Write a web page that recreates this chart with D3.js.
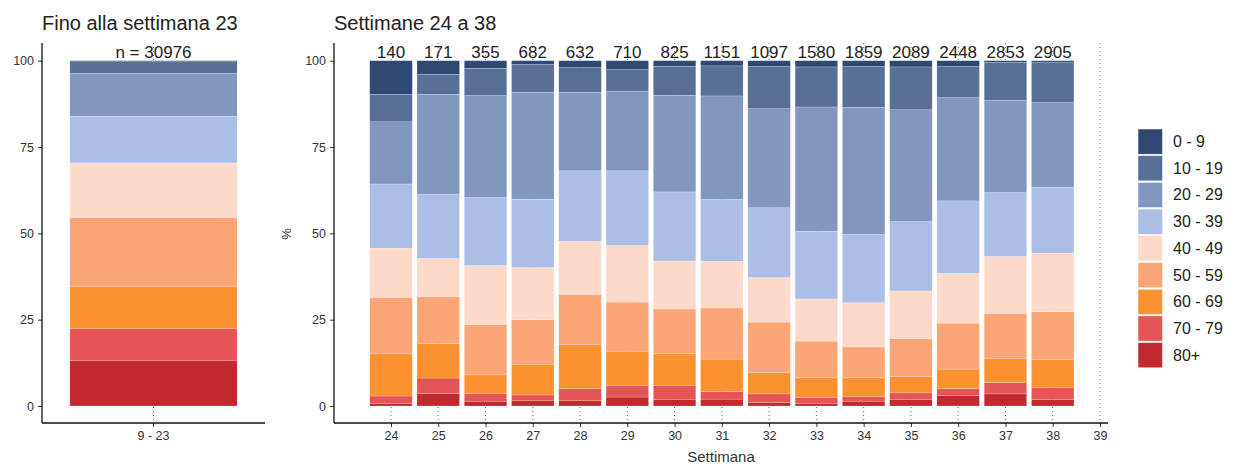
<!DOCTYPE html>
<html>
<head>
<meta charset="utf-8">
<script src="https://cdn.jsdelivr.net/npm/d3@7"></script>
<style>
  html, body { margin: 0; padding: 0; background: #fff; }
  svg { display: block; font-family: "Liberation Sans", Arial, sans-serif; }
</style>
</head>
<body>
<svg id="chart" width="1235" height="467"></svg>
<script>
// ---------- DATA ----------
const ageGroups = ["0 - 9", "10 - 19", "20 - 29", "30 - 39", "40 - 49", "50 - 59", "60 - 69", "70 - 79", "80+"];
const ageColors = ["#2e4a72", "#586f97", "#8197bf", "#abbfe6", "#fdd9c9", "#fca676", "#fc9130", "#e55456", "#c0292d"];

const weeks = [24, 25, 26, 27, 28, 29, 30, 31, 32, 33, 34, 35, 36, 37, 38];
const nCounts = [140, 171, 355, 682, 632, 710, 825, 1151, 1097, 1580, 1859, 2089, 2448, 2853, 2905];
const weekTicks = [24, 25, 26, 27, 28, 29, 30, 31, 32, 33, 34, 35, 36, 37, 38, 39];

// % share per age group, weeks 24..38
const pct0_9   = [9.7, 3.9, 2.2, 1.1, 2.0, 2.6, 1.6, 1.5, 1.7, 1.8, 1.7, 1.8, 1.7, 0.5, 0.4];
const pct10_19 = [8.0, 5.8, 7.9, 8.0, 7.2, 6.2, 8.4, 8.7, 12.2, 11.6, 11.8, 12.4, 9.0, 11.0, 11.7];
const pct20_29 = [18.0, 28.9, 29.5, 31.0, 22.7, 23.1, 28.0, 30.0, 28.7, 36.0, 36.8, 32.4, 29.9, 26.7, 24.5];
const pct30_39 = [18.6, 18.7, 19.7, 19.8, 20.4, 21.6, 20.0, 17.9, 20.2, 19.6, 19.8, 20.1, 21.0, 18.5, 19.1];
const pct40_49 = [14.3, 11.0, 17.1, 15.1, 15.4, 16.4, 13.9, 13.5, 12.9, 12.2, 12.8, 13.8, 14.4, 16.5, 17.0];
const pct50_59 = [16.3, 13.6, 14.6, 12.9, 14.5, 14.2, 12.9, 14.8, 14.6, 10.6, 8.9, 11.0, 13.3, 13.1, 13.9];
const pct60_69 = [12.2, 10.0, 5.4, 8.9, 12.8, 9.9, 9.2, 9.4, 6.2, 5.7, 5.4, 4.7, 5.6, 6.9, 8.1];
const pct70_79 = [2.2, 4.5, 2.2, 1.7, 3.5, 3.4, 4.2, 2.2, 2.5, 1.7, 1.4, 2.0, 2.0, 3.3, 3.4];
const pct80p   = [0.7, 3.6, 1.4, 1.5, 1.5, 2.6, 1.8, 2.0, 1.0, 0.8, 1.4, 1.8, 3.1, 3.5, 1.9];

// Left panel: up to week 23
const earlyLabel = "9 - 23";
const earlyN = 30976;
const earlyPct = [0.3, 3.3, 12.5, 13.5, 15.9, 20.0, 12.1, 9.3, 13.1];

const yTicks = [0, 25, 50, 75, 100];

// ---------- BUILD TABLES ----------
const seriesByAge = [pct0_9, pct10_19, pct20_29, pct30_39, pct40_49, pct50_59, pct60_69, pct70_79, pct80p];
const weekRows = weeks.map((w, i) => {
  const r = { week: w, n: nCounts[i] };
  ageGroups.forEach((g, k) => { r[g] = seriesByAge[k][i]; });
  return r;
});
const earlyRow = { week: earlyLabel, n: earlyN };
ageGroups.forEach((g, k) => { earlyRow[g] = earlyPct[k]; });

const stackKeys = ageGroups.slice().reverse(); // 80+ at the bottom
const stacker = d3.stack().keys(stackKeys).offset(d3.stackOffsetExpand);
const color = d3.scaleOrdinal().domain(ageGroups).range(ageColors);

const svg = d3.select("#chart");
const yTop = 43, yBottom = 423;
const y = d3.scaleLinear().domain([0, 100]).range([406, 60.7]);

const textCol = "#222";
const tickFont = 12.5;

// ---------- LEFT PANEL ----------
const L = { x0: 42, x1: 265 };
const xL = d3.scaleBand().domain([earlyLabel]).range([L.x0, L.x1]).paddingInner(0.1).paddingOuter(0.3);
const unitL = (L.x1 - L.x0) / 1.2;
const cxL = xL(earlyLabel) + xL.bandwidth() / 2;
const bwL = unitL * 0.9;

const gL = svg.append("g");
gL.append("line").attr("x1", cxL).attr("x2", cxL).attr("y1", yTop).attr("y2", yBottom)
  .attr("stroke", "#666").attr("stroke-width", 1).attr("stroke-dasharray", "1,3");

const stackL = stacker([earlyRow]);
gL.selectAll("rect.seg").data(stackL).join("rect")
  .attr("class", "seg")
  .attr("x", cxL - bwL / 2)
  .attr("width", bwL)
  .attr("y", d => y(d[0][1] * 100))
  .attr("height", d => y(d[0][0] * 100) - y(d[0][1] * 100))
  .attr("fill", d => color(d.key))
  .attr("stroke", "#fff").attr("stroke-width", 0.4).attr("stroke-opacity", 0.5);

gL.append("text").attr("x", cxL).attr("y", 57.5).attr("text-anchor", "middle")
  .attr("font-size", 17).attr("fill", textCol).text("n = " + earlyN);

const yAxisL = d3.axisLeft(y).tickValues(yTicks).tickSize(4).tickPadding(4);
const gyL = gL.append("g").attr("transform", `translate(${L.x0},0)`).call(yAxisL);
gyL.select(".domain").remove();
gyL.selectAll("text").attr("font-size", tickFont).attr("fill", "#333").attr("font-family", "Liberation Sans, Arial, sans-serif");
gyL.selectAll("line").attr("stroke", "#333");
gL.append("line").attr("x1", L.x0).attr("x2", L.x0).attr("y1", yTop).attr("y2", yBottom)
  .attr("stroke", "#111").attr("stroke-width", 1.3);
const xAxisL = d3.axisBottom(xL).tickSize(4).tickPadding(4);
const gxL = gL.append("g").attr("transform", `translate(0,${yBottom})`).call(xAxisL);
gxL.select(".domain").remove();
gxL.selectAll("text").attr("font-size", tickFont).attr("fill", "#333").attr("font-family", "Liberation Sans, Arial, sans-serif");
gxL.selectAll("line").attr("stroke", "#333");
gL.append("line").attr("x1", L.x0).attr("x2", L.x1).attr("y1", yBottom).attr("y2", yBottom)
  .attr("stroke", "#111").attr("stroke-width", 1.3);

gL.append("text").attr("x", 42).attr("y", 30).attr("font-size", 20).attr("fill", textCol)
  .text("Fino alla settimana 23");

// ---------- RIGHT PANEL ----------
const R = { x0: 334, x1: 1108 };
const x = d3.scaleLinear().domain([22.794, 39.17]).range([R.x0, R.x1]);
const step = x(25) - x(24);
const bw = step * 0.9;

const gR = svg.append("g");
gR.selectAll("line.guide").data(weekTicks).join("line")
  .attr("class", "guide")
  .attr("x1", d => x(d)).attr("x2", d => x(d))
  .attr("y1", yTop).attr("y2", yBottom)
  .attr("stroke", "#666").attr("stroke-width", 1).attr("stroke-dasharray", "1,3");

const stackR = stacker(weekRows);
gR.selectAll("g.layer").data(stackR).join("g")
  .attr("class", "layer")
  .attr("fill", d => color(d.key))
  .selectAll("rect").data(d => d).join("rect")
  .attr("x", d => x(d.data.week) - bw / 2)
  .attr("width", bw)
  .attr("y", d => y(d[1] * 100))
  .attr("height", d => y(d[0] * 100) - y(d[1] * 100))
  .attr("stroke", "#fff").attr("stroke-width", 0.4).attr("stroke-opacity", 0.5);

gR.selectAll("text.n").data(weekRows).join("text")
  .attr("class", "n")
  .attr("x", d => x(d.week)).attr("y", 57.5)
  .attr("text-anchor", "middle").attr("font-size", 17).attr("fill", textCol)
  .text(d => d.n);

const yAxisR = d3.axisLeft(y).tickValues(yTicks).tickSize(4).tickPadding(4);
const gyR = gR.append("g").attr("transform", `translate(${R.x0},0)`).call(yAxisR);
gyR.select(".domain").remove();
gyR.selectAll("text").attr("font-size", tickFont).attr("fill", "#333").attr("font-family", "Liberation Sans, Arial, sans-serif");
gyR.selectAll("line").attr("stroke", "#333");
gR.append("line").attr("x1", R.x0).attr("x2", R.x0).attr("y1", yTop).attr("y2", yBottom)
  .attr("stroke", "#111").attr("stroke-width", 1.3);

const xAxisR = d3.axisBottom(x).tickValues(weekTicks).tickFormat(d3.format("d")).tickSize(4).tickPadding(4);
const gxR = gR.append("g").attr("transform", `translate(0,${yBottom})`).call(xAxisR);
gxR.select(".domain").remove();
gxR.selectAll("text").attr("font-size", tickFont).attr("fill", "#333").attr("font-family", "Liberation Sans, Arial, sans-serif");
gxR.selectAll("line").attr("stroke", "#333");
gR.append("line").attr("x1", R.x0).attr("x2", R.x1).attr("y1", yBottom).attr("y2", yBottom)
  .attr("stroke", "#111").attr("stroke-width", 1.3);

gR.append("text").attr("x", 334).attr("y", 30).attr("font-size", 20).attr("fill", textCol)
  .text("Settimane 24 a 38");
gR.append("text").attr("x", (R.x0 + R.x1) / 2).attr("y", 462).attr("text-anchor", "middle")
  .attr("font-size", 15).attr("fill", "#333").text("Settimana");
gR.append("text").attr("transform", "translate(291,234) rotate(-90)").attr("text-anchor", "middle")
  .attr("font-size", 13).attr("fill", "#333").text("%");

// ---------- LEGEND ----------
const leg = svg.append("g").attr("transform", "translate(1138,129)");
const pitch = 26.7;
const li = leg.selectAll("g").data(ageGroups).join("g")
  .attr("transform", (d, i) => `translate(0,${i * pitch})`);
li.append("rect").attr("width", 24.5).attr("height", pitch - 1.5)
  .attr("fill", d => color(d)).attr("stroke", "#fff").attr("stroke-width", 0.5);
li.append("text").attr("x", 35).attr("y", (pitch - 1.5) / 2 + 5.5)
  .attr("font-size", 16).attr("fill", textCol).text(d => d);
</script>
</body>
</html>
